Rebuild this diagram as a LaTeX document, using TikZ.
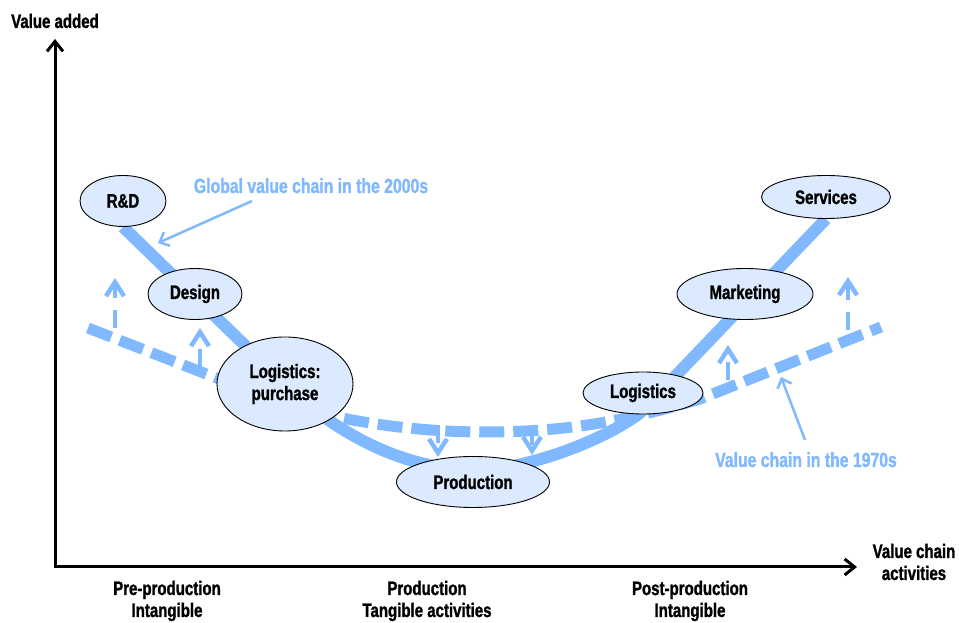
\documentclass[tikz,border=0pt]{standalone}
\usepackage{fontspec}
\setmainfont{Liberation Sans}[FakeStretch=0.77,FakeBold=1.3]
\usetikzlibrary{arrows.meta,backgrounds,shapes.geometric}
\definecolor{chainblue}{RGB}{128,185,255}
\definecolor{stagefill}{RGB}{220,234,255}
\begin{document}
\begin{tikzpicture}[x=1pt,y=1pt,font=\bfseries\fontsize{19.5}{22}\selectfont,
  stage/.style={ellipse,draw=black,line width=0.9pt,fill=stagefill,inner sep=0pt,align=center},
  gvc/.style={chainblue,line width=12pt},
  vc70/.style={chainblue,line width=11pt,dash pattern=on 25pt off 9pt},
  rise/.style={chainblue,line width=4.5pt,dash pattern=on 18pt off 12pt,-{Straight Barb[length=14pt,width=18pt]}},
  note/.style={chainblue,line width=2.5pt,-{Straight Barb[length=8pt,width=15pt]}},
  axis/.style={line width=3pt,{Straight Barb[length=10pt,width=16pt]}-{Straight Barb[length=10pt,width=16pt]}},
  bluelabel/.style={chainblue,anchor=base,font=\bfseries\fontsize{20.5}{22}\selectfont}]
  \useasboundingbox (0,0) rectangle (959,623);
  \coordinate (o) at (55,56);
  \draw[axis] (55,584) -- (o) -- (857,56);
  \node (yl) at (55,602) {Value added};
  \node[align=center] (xl) at (914,61) {Value chain\\activities};
  \node[align=center] (pre) at (167,22) {Pre-production\\Intangible};
  \node[align=center] (mid) at (427,22) {Production\\Tangible activities};
  \node[align=center] (post) at (690,22) {Post-production\\Intangible};
  \node[stage,minimum width=86pt,minimum height=51pt] (rd) at (123,422) {R\&D};
  \node[stage,minimum width=94pt,minimum height=51pt] (design) at (195,329) {Design};
  \node[stage,minimum width=136pt,minimum height=94pt] (purchase) at (285,239) {Logistics:\\purchase};
  \node[stage,minimum width=153pt,minimum height=51pt] (production) at (473,141) {Production};
  \node[stage,minimum width=120pt,minimum height=42pt] (logistics) at (643,230) {Logistics};
  \node[stage,minimum width=136pt,minimum height=51pt] (marketing) at (745,329) {Marketing};
  \node[stage,minimum width=129pt,minimum height=43pt] (services) at (826,426) {Services};
  \begin{scope}[on background layer]
    \coordinate (w70) at (88,295);
    \coordinate (e70) at (881,296);
    \draw[gvc] (rd.south) -- (292,232) .. controls (350,180) and (410,155) .. (475,152)
      .. controls (525,154) and (600,180) .. (640,210) -- (services.south);
    \draw[vc70] (w70) -- (250,232) .. controls (330,200) and (420,191) .. (485,191)
      .. controls (560,191) and (620,200) .. (700,224) -- (e70);
  \end{scope}
  \draw[rise] (115,295) -- (115,345);
  \draw[rise] (200,256) -- (200,295);
  \draw[rise] (438,198) -- (438,166);
  \draw[rise] (532,196) -- (532,168);
  \draw[rise] (728,243) -- (728,278);
  \draw[rise] (848,293) -- (848,346);
  \node[bluelabel] (gvclabel) at (311,430) {Global value chain in the 2000s};
  \node[bluelabel] (vclabel) at (806,156) {Value chain in the 1970s};
  \draw[note] ([shift={(-59pt,-8pt)}]gvclabel.base) -- (158,380);
  \draw[note] ([shift={(-1pt,27pt)}]vclabel.base) -- (781,246);
\end{tikzpicture}
\end{document}
